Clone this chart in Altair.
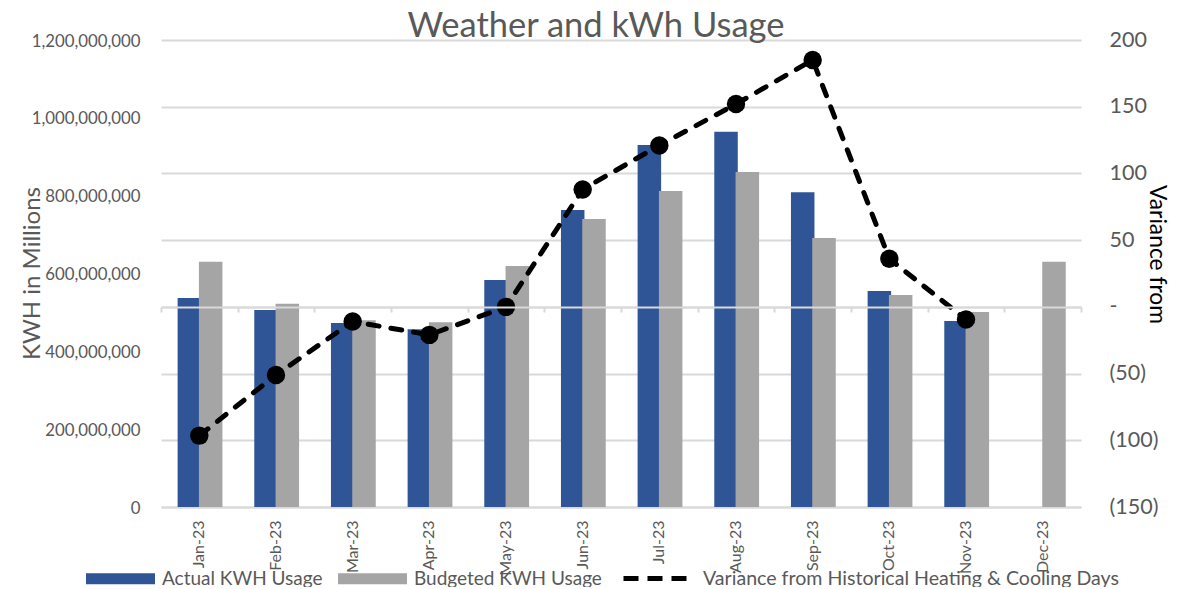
import altair as alt
import pandas as pd

months = ["Jan-23","Feb-23","Mar-23","Apr-23","May-23","Jun-23","Jul-23","Aug-23","Sep-23","Oct-23","Nov-23","Dec-23"]
actual = [537e6,506e6,473e6,457e6,583e6,763e6,930e6,964e6,809e6,555e6,478e6,None]
budget = [630e6,522e6,480e6,475e6,619e6,740e6,812e6,861e6,691e6,545e6,501e6,630e6]
variance = [-96.5,-51,-11,-21,0,88,121,152,185,36,-9.5,None]
left_ticks = [0,200e6,400e6,600e6,800e6,1000e6,1200e6]
right_ticks = [-150,-100,-50,0,50,100,150,200]

S_A = "Actual KWH Usage"
S_B = "Budgeted KWH Usage"
S_V = "Variance from Historical Heating & Cooling Days"
FONT = "Lato"
TXT = "#595959"
GRID = "#D9D9D9"

bars_df = pd.DataFrame(
    [{"month": m, "series": S_A, "kwh": v, "o": 0} for m, v in zip(months, actual) if v is not None]
    + [{"month": m, "series": S_B, "kwh": v, "o": 1} for m, v in zip(months, budget)]
)
line_df = pd.DataFrame(
    [{"month": m, "series": S_V, "var": v} for m, v in zip(months, variance) if v is not None]
)

x_scale = alt.Scale(domain=months, paddingInner=0, paddingOuter=0)
y_right_scale = alt.Scale(domain=[-150, 200], nice=False)

bars = alt.Chart(bars_df).mark_bar(size=23.5).encode(
    x=alt.X("month:N", scale=x_scale, title=None, sort=months, axis=alt.Axis(
        labelAngle=270, labelAlign="right", labelBaseline="middle", labelFontSize=16,
        labelColor=TXT, labelFont=FONT, labelPadding=13, labelOverlap=False,
        ticks=False, domain=True, domainColor=GRID, domainWidth=2, grid=False)),
    xOffset=alt.XOffset("series:N", scale=alt.Scale(domain=[S_A, S_B], paddingInner=0, paddingOuter=0.8, align=0.52)),
    y=alt.Y("kwh:Q", scale=alt.Scale(domain=[0, 1200e6], nice=False), title="KWH in Millions", axis=alt.Axis(
        orient="left", values=left_ticks, format=",.0f", grid=False, ticks=False, domain=False,
        labelFontSize=16.8, labelColor=TXT, labelFont=FONT, labelPadding=21, labelOffset=1,
        titleFontSize=24, titleColor=TXT, titleFont=FONT, titleFontWeight="normal",
        titleX=-117, titleY=233, titleAnchor="middle")),
    color=alt.Color("series:N", scale=alt.Scale(domain=[S_A, S_B], range=["#2F5597", "#A5A5A5"]), legend=alt.Legend(
        orient="none", legendX=-75, legendY=504, padding=0, direction="horizontal", columns=2, title=None,
        symbolType="M-1,-0.16H1V0.16H-1Z", symbolSize=4761, symbolStrokeWidth=0, labelOffset=7, columnPadding=15,
        labelFontSize=19, labelColor=TXT, labelFont=FONT, labelLimit=300)),
    order=alt.Order("o:Q"),
)

line = alt.Chart(line_df).mark_line(strokeWidth=5, strokeDash=[11, 12], strokeCap="round", clip=False).encode(
    x=alt.X("month:N", scale=x_scale, title=None, sort=months, axis=alt.Axis(
        orient="bottom", offset=-200, labels=False, domain=True, domainColor=GRID, domainWidth=2,
        ticks=True, tickColor=GRID, tickWidth=2, tickSize=5, tickBand="extent", grid=False, zindex=1)),
    y=alt.Y("var:Q", scale=y_right_scale, title="Variance from", axis=alt.Axis(
        orient="right", values=right_ticks, grid=True, gridColor=GRID, gridWidth=2, ticks=False, domain=False,
        labelExpr="datum.value == 0 ? '-' : (datum.value < 0 ? '(' + abs(datum.value) + ')' : '' + datum.value)",
        labelFontSize=21.5, labelColor=TXT, labelFont=FONT, labelPadding=28,
        titleFontSize=22.8, titleColor="#000000", titleFont=FONT, titleFontWeight="normal",
        titleX=63, titleY=214, titleAnchor="middle", titleAngle=90)),
    stroke=alt.Stroke("series:N", scale=alt.Scale(domain=[S_V], range=["#000000"]), legend=alt.Legend(
        orient="none", legendX=460, legendY=501, padding=0, title=None, symbolType="stroke", symbolSize=4900,
        symbolStrokeWidth=5, symbolDash=[15, 9], labelOffset=7,
        labelFontSize=19.6, labelColor=TXT, labelFont=FONT, labelLimit=500)),
)

points = alt.Chart(line_df).mark_circle(size=340, color="#000000", opacity=1).encode(
    x=alt.X("month:N", scale=x_scale, sort=months, axis=None),
    y=alt.Y("var:Q", scale=y_right_scale, axis=None),
)

chart = (
    alt.layer(bars, line, points)
    .resolve_scale(y="independent", x="shared", color="independent")
    .resolve_axis(x="independent", y="independent")
    .properties(
        width=920, height=467,
        padding={"left": 153, "top": 32, "right": 96, "bottom": 80},
        autosize=alt.AutoSizeParams(type="none"),
        title=alt.TitleParams("Weather and kWh Usage", fontSize=34.5, font=FONT, fontWeight="normal",
                              color=TXT, anchor="middle", dx=-25, dy=17, offset=2),
    )
    .configure_view(stroke=None)
)
chart.save("out.html", embed_options={"renderer": "svg", "actions": False})
